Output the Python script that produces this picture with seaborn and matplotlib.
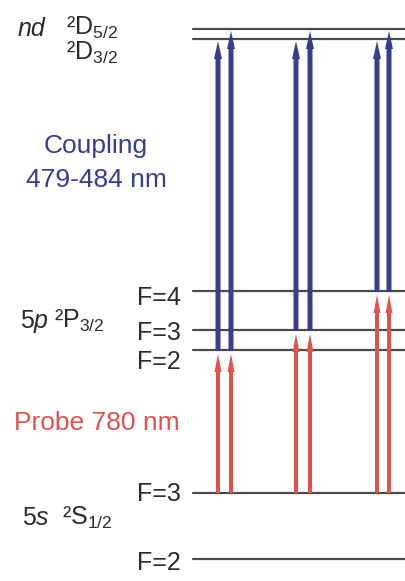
import matplotlib
matplotlib.use("Agg")
import matplotlib.pyplot as plt
import seaborn as sns
import pandas as pd

# Niveles de energía (coordenada vertical del diagrama, arriba = mayor energía)
level_names = ["D52", "D32", "P_F4", "P_F3", "P_F2", "S_F3", "S_F2"]
level_y = [29, 39, 291, 330, 350, 493, 559]

# Transiciones: sonda (5S F=3 -> 5P F') y acople (5P F' -> nD)
probe_lower = ["S_F3", "S_F3", "S_F3"]
probe_upper = ["P_F2", "P_F3", "P_F4"]
coupling_targets = [("D32", "D52"), ("D32", "D52"), ("D32", "D52")]

# Etiquetas
hf_labels = ["F=4", "F=3", "F=2", "F=3", "F=2"]
hf_levels = ["P_F4", "P_F3", "P_F2", "S_F3", "S_F2"]

sns.set_style("white")
plt.rcParams["font.family"] = ["Liberation Sans", "DejaVu Sans"]
plt.rcParams["mathtext.fontset"] = "custom"
plt.rcParams["mathtext.rm"] = "Liberation Sans"
plt.rcParams["mathtext.it"] = "Liberation Sans:italic"

E = dict(zip(level_names, level_y))

BLUE = "#363f8e"
RED = "#df524e"
LINE = "#4a4a4a"
TEXT = "#2b2b2b"

fig = plt.figure(figsize=(4.06, 5.81), dpi=100)
ax = fig.add_axes([0, 0, 1, 1])

# Líneas de niveles
x_start, x_end = 193, 406
df_levels = pd.DataFrame({
    "level": level_names * 2,
    "x": [x_start] * len(level_names) + [x_end] * len(level_names),
    "y": level_y * 2,
})
sns.lineplot(data=df_levels, x="x", y="y", units="level", estimator=None,
             color=LINE, lw=1.6, ax=ax, legend=False)
ax.set_xlim(0, 406)
ax.set_ylim(581, 0)
ax.axis("off")

# Flechas (FancyArrow en unidades de datos, escala 1:1 con píxeles)
pair_x = [(218, 231), (296, 310), (377, 389)]
for (xl, xr), lo, up, (t1, t2) in zip(pair_x, probe_lower, probe_upper, coupling_targets):
    for x in (xl, xr):
        y0, y1 = E[lo], E[up] + 4
        ax.arrow(x, y0, 0, y1 - y0, width=4, head_width=7, head_length=18,
                 length_includes_head=True, color=RED, lw=0, zorder=3)
    for x, tgt in ((xl, t1), (xr, t2)):
        y0, y1 = E[up] + 1, E[tgt] + 2
        ax.arrow(x, y0, 0, y1 - y0, width=5, head_width=8, head_length=18,
                 length_includes_head=True, color=BLUE, lw=0, zorder=3)

# Etiquetas de F
hf_offsets = [7, 3, 12, 1, 4]
for lab, lev, off in zip(hf_labels, hf_levels, hf_offsets):
    ax.text(181, E[lev] + off, lab, ha="right", va="center", fontsize=18, color=TEXT)

# Etiquetas de estados
ax.text(18, 36, "nd", ha="left", va="baseline", fontsize=18, style="italic", color=TEXT)
ax.text(66, 35, "²D$_{5/2}$", ha="left", va="baseline", fontsize=18, color=TEXT)
ax.text(66, 60, "²D$_{3/2}$", ha="left", va="baseline", fontsize=18, color=TEXT)

ax.text(20, 328, "5$\\mathit{p}$", ha="left", va="baseline", fontsize=18, color=TEXT)
ax.text(54, 328, "²P$_{3/2}$", ha="left", va="baseline", fontsize=18, color=TEXT)

ax.text(22, 525, "5$\\mathit{s}$", ha="left", va="baseline", fontsize=18, color=TEXT)
ax.text(62, 525, "²S$_{1/2}$", ha="left", va="baseline", fontsize=18, color=TEXT)

ax.text(96, 146, "Coupling", ha="center", va="center", fontsize=19, color=BLUE)
ax.text(96, 180, "479-484 nm", ha="center", va="center", fontsize=19, color=BLUE)
ax.text(97, 423, "Probe 780 nm", ha="center", va="center", fontsize=19, color=RED)

fig.savefig("out.png", dpi=100)
